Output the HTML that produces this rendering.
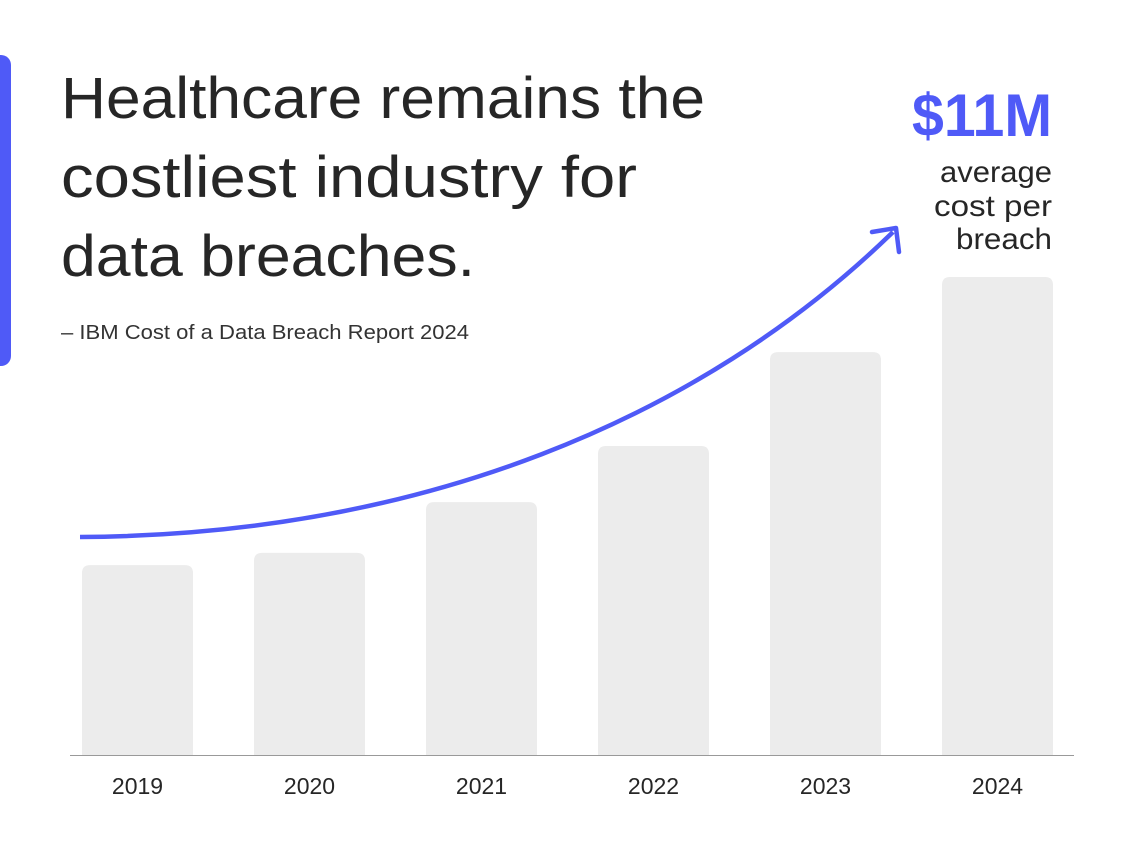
<!DOCTYPE html>
<html><head><meta charset="utf-8"><style>
html,body{margin:0;padding:0;background:#fff;}
svg{display:block;font-family:"Liberation Sans",sans-serif;}
</style></head><body>
<svg width="1142" height="842" viewBox="0 0 1142 842">
<path d="M0,55 H1 A10,10 0 0 1 11,65 V356 A10,10 0 0 1 1,366 H0 Z" fill="#4f5af7"/>
<g fill="#262626" font-size="58">
<text x="61" y="118" textLength="644" lengthAdjust="spacingAndGlyphs">Healthcare remains the</text>
<text x="61" y="197" textLength="576" lengthAdjust="spacingAndGlyphs">costliest industry for</text>
<text x="61" y="276" textLength="414" lengthAdjust="spacingAndGlyphs">data breaches.</text>
</g>
<text x="61" y="339" font-size="20" fill="#333" textLength="408" lengthAdjust="spacingAndGlyphs">– IBM Cost of a Data Breach Report 2024</text>
<text x="1052" y="136" text-anchor="end" font-size="60" font-weight="bold" fill="#4f5af7" textLength="140" lengthAdjust="spacingAndGlyphs">$11M</text>
<g fill="#262626" font-size="30" text-anchor="end">
<text x="1052" y="182" textLength="112" lengthAdjust="spacingAndGlyphs">average</text>
<text x="1052" y="216" textLength="118" lengthAdjust="spacingAndGlyphs">cost per</text>
<text x="1052" y="249" textLength="96" lengthAdjust="spacingAndGlyphs">breach</text>
</g>
<g id="bars"></g>
<line x1="70" y1="755.5" x2="1074" y2="755.5" stroke="#999" stroke-width="1"/>
<g id="labels"></g>
<path d="M80,537 C420,535 700,420 893,232" fill="none" stroke="#4f5af7" stroke-width="4.5"/>
<path d="M872,232 L896,228 L899,252" fill="none" stroke="#4f5af7" stroke-width="4.5" stroke-linecap="round" stroke-linejoin="round"/>
</svg>
<script>
const years = ["2019","2020","2021","2022","2023","2024"];
const costs = [4.37, 4.65, 5.82, 7.11, 9.27, 11.0];
const ns="http://www.w3.org/2000/svg";
const baseY=755, pxPerUnit=478/11, x0=82, step=172, bw=111;
function xPos(i){return x0+i*step;}
function yPos(v){return baseY-v*pxPerUnit;}
const bars=document.getElementById('bars'), labels=document.getElementById('labels');
years.forEach((y,i)=>{
  const top=yPos(costs[i]);
  const p=document.createElementNS(ns,'path');
  const x=xPos(i), r=8;
  p.setAttribute('d',`M${x},${baseY} V${top+r} Q${x},${top} ${x+r},${top} H${x+bw-r} Q${x+bw},${top} ${x+bw},${top+r} V${baseY} Z`);
  p.setAttribute('fill','#ececec');
  
  
  bars.appendChild(p);
  const t=document.createElementNS(ns,'text');
  t.setAttribute('x',x+bw/2);t.setAttribute('y',794);
  t.setAttribute('text-anchor','middle');t.setAttribute('font-size','23');t.setAttribute('fill','#262626');
  t.textContent=y;
  
  
  labels.appendChild(t);
});
</script>
</body></html>
